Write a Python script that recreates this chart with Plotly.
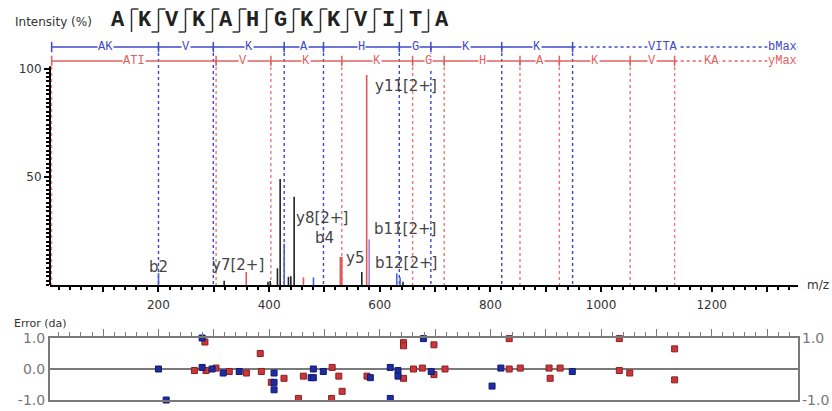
import plotly.graph_objects as go

# ---------------- data ----------------
sequence = list("AKVKAHGKKVITA")
# bracket style per cleavage site (between residue i and i+1): has b-hook (top), has y-hook (bottom)
site_b = [1, 1, 1, 1, 1, 1, 1, 1, 1, 1, 0, 0]
site_y = [0, 1, 1, 1, 1, 1, 1, 1, 1, 1, 1, 1]

row_start_mz = 7
b_ion_mz = [200.1, 299.2, 427.3, 498.3, 635.4, 692.4, 820.5, 948.6]
b_labels = ["AK", "V", "K", "A", "H", "G", "K", "K"]
b_tail_label, b_tail_mz = "VITA", 1112
y_ion_mz = [304.2, 403.2, 531.4, 659.4, 716.5, 853.5, 924.6, 1052.7, 1133.0]
y_labels = ["ATI", "V", "K", "K", "G", "H", "A", "K", "V"]
y_tail_label, y_tail_mz = "KA", 1200

peak_mz = [200.1, 318.8, 358.7, 398.0, 402.0, 415.1, 420.0, 427.3, 435.0, 439.3, 445.3,
           462.1, 480.2, 528.8, 531.4, 567.6, 576.4, 580.9, 630.8, 636.8, 642.0]
peak_int = [5.5, 2.0, 6.0, 1.5, 1.8, 7.7, 49.0, 19.0, 3.8, 4.0, 40.8,
            3.5, 3.5, 13.0, 13.0, 6.0, 97.0, 21.0, 5.4, 3.5, 1.5]
peak_type = ['b', 'o', 'y', 'o', 'o', 'o', 'o', 'b', 'o', 'o', 'o',
             'y', 'b', 'y', 'y', 'o', 'y', 'by', 'b', 'b', 'o']

peak_labels = ["b2", "y7[2+]", "y8[2+]", "b4", "y5", "b11[2+]", "b12[2+]", "y11[2+]"]
peak_label_mz = [200, 343, 496, 501, 555, 646, 648, 648]
peak_label_int = [8.3, 9.2, 31.0, 21.7, 12.5, 25.9, 10.2, 92.0]

err_b_mz = [200, 214, 279, 279, 297, 317, 346, 409, 409, 409, 476, 480, 480, 498,
            583, 619, 619, 633, 633, 679, 693, 803, 819, 948]
err_b_val = [0.0, -1.0, 1.0, 0.05, 0.0, -0.13, -0.08, -0.43, -0.13, -0.67, -0.28, -0.28, 0.0, -0.08,
             -0.28, 0.05, -0.95, -0.05, -0.23, 0.98, -0.08, -0.55, 0.03, -0.08]
err_y_mz = [265, 284, 286, 304, 328, 359, 384, 386, 404, 427, 453, 462, 514, 513, 526, 532,
            577, 643, 643, 643, 661, 677, 698, 698, 718, 834, 834, 854, 906, 908, 926,
            1033, 1033, 1052, 1133, 1133]
err_y_val = [-0.05, 0.87, -0.05, 0.03, -0.08, -0.13, 0.5, -0.08, -0.43, -0.3, -0.95, -0.23, 0.05, -0.95, -0.23, -0.72,
             -0.23, -0.3, 0.85, 0.75, 0.0, 0.03, 0.78, -0.18, 0.0, 0.0, 0.98, 0.03, 0.03, -0.3, 0.03,
             0.98, -0.05, -0.13, 0.65, -0.35]

x_ticks = [100 * i for i in range(1, 14)]
x_ticktext = [str(v) if v % 200 == 0 else "" for v in x_ticks]

# ---------------- layout constants ----------------
W, H = 832, 411
ML, MR, MT, MB = 50, 34, 40, 11
PW, PH = W - ML - MR, H - MT - MB
X_RANGE = [4, 1356]
MAIN_TOP = 100 * (285 - 40) / (285 - 68.5)
B_ROW = 109.9
Y_ROW = 103.5
BLUE = "#4048c8"
RED = "#e06060"
BLUE_LINE = "#3a46cc"
RED_LINE = "#e87a7a"


def px(x):
    return (x - ML) / PW


def py(y):
    return (H - MB - y) / PH


fig = go.Figure()

# dashed ion lines
def vlines(xs, ytop):
    X, Y = [], []
    for v in xs:
        X += [v, v, None]
        Y += [ytop, 0, None]
    return X, Y

X, Y = vlines(y_ion_mz, Y_ROW)
fig.add_trace(go.Scatter(x=X, y=Y, mode="lines", line=dict(color=RED_LINE, width=1.4, dash="dot"),
                         hoverinfo="skip", showlegend=False))
X, Y = vlines(b_ion_mz, B_ROW)
fig.add_trace(go.Scatter(x=X, y=Y, mode="lines", line=dict(color=BLUE_LINE, width=1.4, dash="dot"),
                         hoverinfo="skip", showlegend=False))
X, Y = vlines([row_start_mz], Y_ROW)
fig.add_trace(go.Scatter(x=X, y=Y, mode="lines", line=dict(color=RED_LINE, width=1.2, dash="dot"),
                         hoverinfo="skip", showlegend=False))

# row lines
def row(bounds, yrow, color):
    fig.add_trace(go.Scatter(x=[bounds[0], bounds[-1]], y=[yrow, yrow], mode="lines",
                             line=dict(color=color, width=1.5), hoverinfo="skip", showlegend=False))
    fig.add_trace(go.Scatter(x=[bounds[-1], X_RANGE[1]], y=[yrow, yrow], mode="lines",
                             line=dict(color=color, width=1.5, dash="dot"), hoverinfo="skip", showlegend=False))
    TX, TY = [], []
    for v in bounds:
        TX += [v, v, None]
        TY += [yrow - 2.4, yrow + 2.4, None]
    fig.add_trace(go.Scatter(x=TX, y=TY, mode="lines", line=dict(color=color, width=1.5),
                             hoverinfo="skip", showlegend=False))

b_bounds = [row_start_mz] + b_ion_mz
y_bounds = [row_start_mz] + y_ion_mz
row(b_bounds, B_ROW, BLUE)
row(y_bounds, Y_ROW, RED)

# peaks
colors = {'o': '#222222', 'b': '#4a5ee0', 'y': '#e05858', 'by': '#9b84dc'}
for t, c in colors.items():
    X, Y = [], []
    for m, i, tt in zip(peak_mz, peak_int, peak_type):
        if tt == t:
            X += [m, m, None]
            Y += [0, i, None]
    fig.add_trace(go.Scatter(x=X, y=Y, mode="lines", line=dict(color=c, width=1.6),
                             hoverinfo="skip", showlegend=False))

# error points
fig.add_trace(go.Scatter(x=err_y_mz, y=err_y_val, xaxis="x2", yaxis="y2", mode="markers",
                         marker=dict(symbol="square", size=6, color="#c8383a", line=dict(color="#8e1e22", width=1)),
                         cliponaxis=False, showlegend=False))
fig.add_trace(go.Scatter(x=err_b_mz, y=err_b_val, xaxis="x2", yaxis="y2", mode="markers",
                         marker=dict(symbol="square", size=6, color="#1d2c9e", line=dict(color="#121a70", width=1)),
                         cliponaxis=False, showlegend=False))

ann = []
# row labels
def mids(b):
    return [(b[k] + b[k + 1]) / 2 for k in range(len(b) - 1)]

RF = dict(family="Liberation Mono", size=12)
for lab, m in zip(b_labels + [b_tail_label], mids(b_bounds) + [b_tail_mz]):
    ann.append(dict(x=m, y=B_ROW, xref="x", yref="y", text=lab, showarrow=False, bgcolor="white",
                    borderpad=0, font=dict(RF, color=BLUE)))
for lab, m in zip(y_labels + [y_tail_label], mids(y_bounds) + [y_tail_mz]):
    ann.append(dict(x=m, y=Y_ROW, xref="x", yref="y", text=lab, showarrow=False, bgcolor="white",
                    borderpad=0, font=dict(RF, color=RED)))
ann.append(dict(x=X_RANGE[1], y=B_ROW, xref="x", yref="y", text="bMax", xanchor="right", showarrow=False,
                bgcolor="white", borderpad=0, font=dict(RF, color=BLUE)))
ann.append(dict(x=X_RANGE[1], y=Y_ROW, xref="x", yref="y", text="yMax", xanchor="right", showarrow=False,
                bgcolor="white", borderpad=0, font=dict(RF, color=RED)))

# peak labels
for lab, m, i in zip(peak_labels, peak_label_mz, peak_label_int):
    ann.append(dict(x=m, y=i, xref="x", yref="y", text=lab, showarrow=False,
                    font=dict(family="DejaVu Sans", size=15, color="#444444")))

# header
ann.append(dict(x=px(13), y=py(22), xref="paper", yref="paper", text="Intensity (%)", xanchor="left",
                yanchor="middle", showarrow=False, font=dict(family="DejaVu Sans", size=12, color="#333333")))
shapes = []
for k, aa in enumerate(sequence):
    cx = 118 + 27 * k
    ann.append(dict(x=px(cx), y=py(21), xref="paper", yref="paper", text="<b>%s</b>" % aa, showarrow=False,
                    xanchor="center", yanchor="middle",
                    font=dict(family="Liberation Mono", size=22, color="#222222")))
for k in range(len(sequence) - 1):
    sx = 118 + 27 * k + 13.5
    line = dict(color="#333333", width=1.5)
    shapes.append(dict(type="line", xref="paper", yref="paper", x0=px(sx), x1=px(sx), y0=py(9), y1=py(32), line=line))
    if site_b[k]:
        shapes.append(dict(type="line", xref="paper", yref="paper", x0=px(sx), x1=px(sx + 7), y0=py(9), y1=py(9), line=line))
    if site_y[k]:
        shapes.append(dict(type="line", xref="paper", yref="paper", x0=px(sx - 7), x1=px(sx), y0=py(32), y1=py(32), line=line))

# y axis line of main panel (ends at 100 %)
shapes.append(dict(type="line", xref="paper", yref="y", x0=0, x1=0, y0=0, y1=101, line=dict(color="black", width=2)))

ann.append(dict(x=px(805), y=py(285), xref="paper", yref="paper", text="m/z", xanchor="left", yanchor="middle",
                showarrow=False, font=dict(family="DejaVu Sans", size=12, color="#333333")))
ann.append(dict(x=px(12), y=py(323), xref="paper", yref="paper", text="Error (da)", xanchor="left",
                yanchor="middle", showarrow=False, font=dict(family="DejaVu Sans", size=11, color="#333333")))
for v, t in [(1, "1.0"), (-1, "-1.0")]:
    ann.append(dict(x=1, y=v, xref="paper", yref="y2", text=t, xanchor="left", yanchor="middle", xshift=2,
                    showarrow=False, font=dict(family="DejaVu Sans", size=14, color="#777777")))

fig.update_layout(
    width=W, height=H, autosize=False, margin=dict(l=ML, r=MR, t=MT, b=MB, autoexpand=False),
    paper_bgcolor="white", plot_bgcolor="white",
    annotations=ann, shapes=shapes,
    xaxis=dict(domain=[0, 1], range=X_RANGE, anchor="y", showgrid=False, zeroline=False, automargin=False,
               showline=True, linecolor="black", linewidth=2,
               tickmode="array", tickvals=x_ticks, ticktext=x_ticktext, ticks="outside", ticklen=5,
               tickcolor="black", tickwidth=1.5, ticklabelstandoff=3,
               minor=dict(dtick=20, ticks="outside", ticklen=3, tickcolor="black"),
               tickfont=dict(family="DejaVu Sans", size=12, color="#333333")),
    yaxis=dict(domain=[(H - MB - 285) / PH, 1], range=[0, MAIN_TOP], anchor="x", showgrid=False, zeroline=False,
               automargin=False,
               showline=False, tickmode="array", tickvals=[50, 100], ticks="outside", ticklen=5,
               tickcolor="black", tickwidth=1.5,
               minor=dict(tickvals=list(range(0, 101, 2)), ticks="outside", ticklen=3, tickcolor="black"),
               tickfont=dict(family="DejaVu Sans", size=12, color="#333333")),
    xaxis2=dict(domain=[0, 1], range=X_RANGE, anchor="y2", side="top", showgrid=False, zeroline=False,
                automargin=False,
                showline=True, mirror=True, linecolor="#7a7a7a", linewidth=2, showticklabels=False,
                tickmode="array", tickvals=x_ticks, ticks="outside", ticklen=7, tickcolor="#7a7a7a",
                minor=dict(dtick=20, ticks="outside", ticklen=4, tickcolor="#7a7a7a")),
    yaxis2=dict(domain=[0, (H - MB - 338) / PH], range=[-1, 1], anchor="x2", showgrid=False,
                automargin=False,
                zeroline=True, zerolinecolor="#7a7a7a", zerolinewidth=2,
                showline=True, mirror=True, linecolor="#7a7a7a", linewidth=2,
                tickmode="array", tickvals=[-1, 0, 1], ticktext=["-1.0", "0.0", "1.0"], ticks="",
                tickfont=dict(family="DejaVu Sans", size=14, color="#777777")),
)

fig.write_html("out.html", config={"displayModeBar": False, "responsive": False},
               default_width="832px", default_height="411px",
               post_script="document.body.style.margin='0';document.body.style.overflow='hidden';")
